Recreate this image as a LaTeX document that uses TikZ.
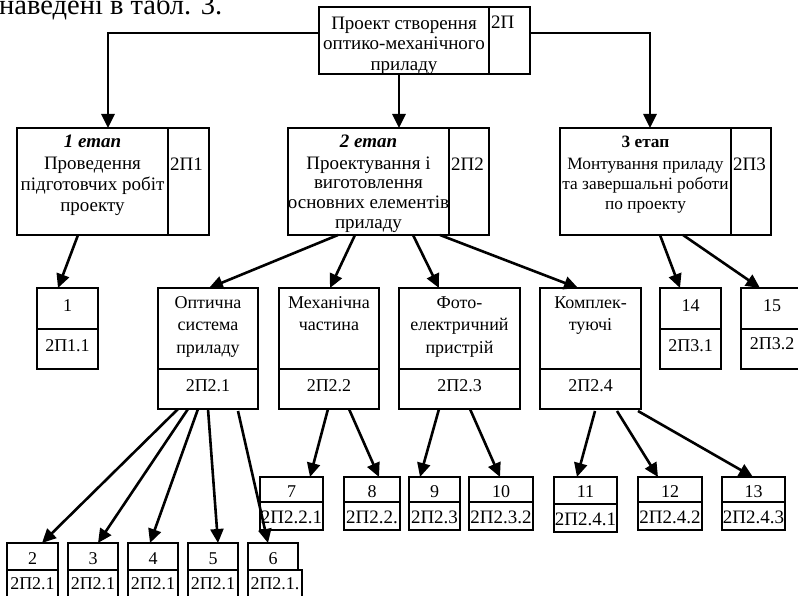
\documentclass[tikz,border=0pt]{standalone}
\usepackage{fontspec}
\setmainfont{Liberation Serif}
\usetikzlibrary{arrows.meta,calc}
\tikzset{
 box/.style={draw, line width=1.8pt, inner sep=0pt, outer sep=0pt, anchor=north west},
 arr/.style={line width=2.6pt, -{Triangle[length=14pt,width=13pt]}},
 txt/.style={inner sep=0pt, anchor=base, font=\fontsize{18}{21}\selectfont},
 big/.style={txt, font=\fontsize{19}{21}\selectfont},
 small/.style={txt, font=\fontsize{17.3}{21}\selectfont},
 codel/.style={big, anchor=base west},
}
\newcommand\bxx[5]{\node[box,minimum width={#4pt-#2pt},minimum height={#5pt-#3pt}] (#1) at (#2,#3) {};}
\newcommand\tline[4]{\node[txt] (#1) at (#2,#3) {#4};}
\newcommand\bline[4]{\node[big] (#1) at (#2,#3) {#4};}
\newcommand\sline[4]{\node[small] (#1) at (#2,#3) {#4};}
\begin{document}
\begin{tikzpicture}[x=1pt,y=-1pt]
\useasboundingbox (0,0) rectangle (798,596);
\clip (0,0) rectangle (798,596);
\node[txt, anchor=base west, font=\fontsize{28.5}{32}\selectfont] (intro) at (-1,15) {наведені в табл. 3.};
% top
\bxx{t}{319}{7}{489}{74}
\bxx{tc}{489}{7}{530}{74}
\bline{ta}{404}{30}{Проект створення}
\bline{tb}{404}{50}{оптико-механічного}
\bline{tcx}{404}{71}{приладу}
\node[codel] (tcode) at (491,29) {2П};
% stage 1
\bxx{s1}{17}{128}{168}{235}
\bxx{s1c}{168}{128}{209}{235}
\bline{s1a}{92.5}{148}{\bfseries\itshape 1 етап}
\bline{s1b}{92.5}{170}{Проведення}
\bline{s1d}{92.5}{191}{підготовчих робіт}
\bline{s1e}{92.5}{212}{проекту}
\node[codel] (s1code) at (170,171) {2П1};
% stage 2
\bxx{s2}{288}{128}{449}{235}
\bxx{s2c}{449}{128}{489}{235}
\bline{s2a}{368.5}{148}{\bfseries\itshape 2 етап}
\bline{s2b}{368.5}{170}{Проектування і}
\bline{s2d}{368.5}{189}{виготовлення}
\bline{s2e}{368.5}{209}{основних елементів}
\bline{s2f}{368.5}{229}{приладу}
\node[codel] (s2code) at (451,171) {2П2};
% stage 3
\bxx{s3}{560}{128}{731}{235}
\bxx{s3c}{731}{128}{771}{235}
\sline{s3a}{645.5}{148}{\bfseries 3 етап}
\sline{s3b}{645.5}{170}{Монтування приладу}
\sline{s3d}{645.5}{190}{та завершальні роботи}
\sline{s3e}{645.5}{210}{по проекту}
\node[codel] (s3code) at (733,171) {2П3};
% row 2
\bxx{b1}{37}{288}{98}{329}
\bxx{b1l}{37}{329}{98}{369}
\tline{b1n}{67.5}{311}{1}
\tline{b1c}{67.5}{351}{2П1.1}
\bxx{o}{158}{288}{258}{369}
\bxx{ol}{158}{369}{258}{409}
\tline{oa}{208}{308}{Оптична}
\tline{ob}{208}{330}{система}
\tline{od}{208}{353}{приладу}
\tline{oc}{208}{391}{2П2.1}
\bxx{m}{279}{288}{379}{369}
\bxx{ml}{279}{369}{379}{409}
\tline{ma}{329}{308}{Механічна}
\tline{mb}{329}{330}{частина}
\tline{mc}{329}{391}{2П2.2}
\bxx{f}{399}{288}{520}{369}
\bxx{fl}{399}{369}{520}{409}
\tline{fa}{459.5}{308}{Фото-}
\tline{fb}{459.5}{330}{електричний}
\tline{fd}{459.5}{353}{пристрій}
\tline{fc}{459.5}{391}{2П2.3}
\bxx{k}{540}{288}{641}{369}
\bxx{kl}{540}{369}{641}{409}
\tline{ka}{590.5}{308}{Комплек-}
\tline{kb}{590.5}{330}{туючі}
\tline{kc}{590.5}{391}{2П2.4}
\bxx{b14}{660}{288}{721}{329}
\bxx{b14l}{660}{329}{721}{369}
\tline{b14n}{690.5}{311}{14}
\tline{b14c}{690.5}{351}{2П3.1}
\bxx{b15}{741}{288}{803}{329}
\bxx{b15l}{741}{329}{803}{369}
\tline{b15n}{772}{311}{15}
\tline{b15c}{772}{349}{2П3.2}
% row 3
\bxx{b7}{260}{477}{323}{502}
\bxx{b7l}{260}{502}{323}{530}
\tline{b7n}{291.5}{497}{7}
\bline{b7c}{291.5}{523}{2П2.2.1}
\bxx{b8}{344}{477}{400}{502}
\bxx{b8l}{344}{502}{400}{530}
\tline{b8n}{372}{497}{8}
\bline{b8c}{372}{523}{2П2.2.}
\bxx{b9}{409}{477}{460}{502}
\bxx{b9l}{409}{502}{460}{530}
\tline{b9n}{434.5}{497}{9}
\bline{b9c}{434.5}{523}{2П2.3}
\bxx{b10}{469}{477}{533}{502}
\bxx{b10l}{469}{502}{533}{530}
\tline{b10n}{501}{497}{10}
\bline{b10c}{501}{523}{2П2.3.2}
\bxx{b11}{554}{477}{617}{504}
\bxx{b11l}{554}{504}{617}{532}
\draw[line width=2.8pt] (b11l.north west) -- (b11l.north east);
\tline{b11n}{585.5}{497}{11}
\bline{b11c}{585.5}{525}{2П2.4.1}
\bxx{b12}{638}{477}{702}{502}
\bxx{b12l}{638}{502}{702}{530}
\tline{b12n}{670}{497}{12}
\bline{b12c}{670}{523}{2П2.4.2}
\bxx{b13}{722}{477}{785}{502}
\bxx{b13l}{722}{502}{785}{530}
\tline{b13n}{753.5}{497}{13}
\bline{b13c}{753.5}{523}{2П2.4.3}
% bottom row
\bxx{b2}{7}{543}{58}{570}
\bxx{b2l}{7}{570}{58}{610}
\tline{b2n}{32.5}{564}{2}
\tline{b2c}{32.5}{589}{2П2.1}
\bxx{b3}{68}{543}{118}{570}
\bxx{b3l}{68}{570}{118}{610}
\tline{b3n}{93}{564}{3}
\tline{b3c}{93}{589}{2П2.1}
\bxx{b4}{128}{543}{178}{570}
\bxx{b4l}{128}{570}{178}{610}
\tline{b4n}{153}{564}{4}
\tline{b4c}{153}{589}{2П2.1}
\bxx{b5}{188}{543}{238}{570}
\bxx{b5l}{188}{570}{238}{610}
\tline{b5n}{213}{564}{5}
\tline{b5c}{213}{589}{2П2.1}
\bxx{b6}{248}{543}{298}{570}
\bxx{b6l}{248}{570}{302}{610}
\tline{b6n}{273}{564}{6}
\tline{b6c}{275}{589}{2П2.1.}
% connectors
\draw[arr] ($(t.north west)+(0,26)$) -| ($(s1.north west)+(91,0)$);
\draw[arr] ($(t.south west)+(80,0)$) -- ($(s2.north west)+(111,0)$);
\draw[arr] ($(tc.north east)+(0,26)$) -| ($(s3.north west)+(90,0)$);
\draw[arr] ($(s1.south west)+(61,0)$) -- ($(b1.north west)+(21,0)$);
\draw[arr] ($(s2.south west)+(50,0)$) -- ($(o.north west)+(51,0)$);
\draw[arr] ($(s2.south west)+(67,0)$) -- ($(m.north west)+(51,0)$);
\draw[arr] ($(s2.south west)+(125,0)$) -- ($(f.north west)+(40,0)$);
\draw[arr] ($(s2.south west)+(152,0)$) -- ($(k.north west)+(38,0)$);
\draw[arr] ($(s3.south west)+(100,0)$) -- ($(b14.north west)+(20,0)$);
\draw[arr] ($(s3.south west)+(123,0)$) -- ($(b15.north west)+(19,0)$);
\draw[arr] ($(ol.south west)+(20,0)$) -- ($(b2.north west)+(35,0)$);
\draw[arr] ($(ol.south west)+(30,0)$) -- ($(b3.north west)+(30,0)$);
\draw[arr] ($(ol.south west)+(40,0)$) -- ($(b4.north west)+(22,0)$);
\draw[arr] ($(ol.south west)+(50,0)$) -- ($(b5.north west)+(30,0)$);
\draw[arr] ($(ol.south west)+(80,2)$) -- ($(b6.north west)+(20,0)$);
\draw[arr] ($(ml.south west)+(49,0)$) -- ($(b7.north west)+(50,0)$);
\draw[arr] ($(ml.south west)+(70,0)$) -- ($(b8.north west)+(35,0)$);
\draw[arr] ($(fl.south west)+(40,0)$) -- ($(b9.north west)+(11,0)$);
\draw[arr] ($(fl.south west)+(71,0)$) -- ($(b10.north west)+(31,0)$);
\draw[arr] ($(kl.south west)+(55,2)$) -- ($(b11.north west)+(23,0)$);
\draw[arr] ($(kl.south west)+(77,2)$) -- ($(b12.north west)+(20,0)$);
\draw[arr] ($(kl.south west)+(98,2)$) -- ($(b13.north west)+(31,0)$);
\end{tikzpicture}
\end{document}
